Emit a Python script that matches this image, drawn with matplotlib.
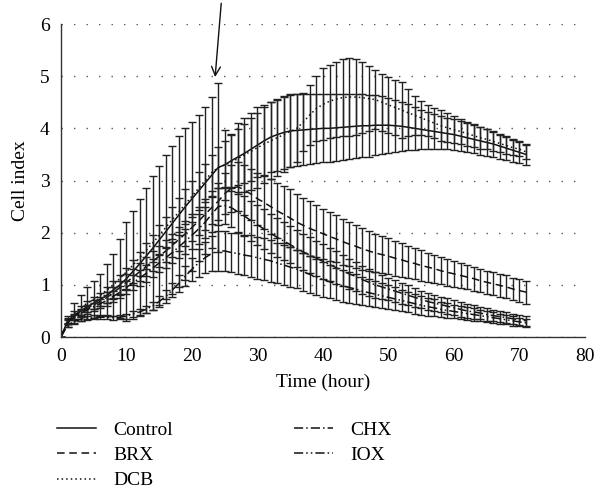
import matplotlib
matplotlib.use("Agg")
import matplotlib.pyplot as plt

# time axis, hours
hours = list(range(72))

control = [
    0.00, 0.30, 0.42, 0.50, 0.58, 0.65, 0.72, 0.80, 0.90, 1.00,
    1.12, 1.26, 1.40, 1.55, 1.70, 1.86, 2.02, 2.18, 2.34, 2.50,
    2.65, 2.80, 2.95, 3.10, 3.25, 3.30, 3.38, 3.45, 3.52, 3.60,
    3.68, 3.76, 3.83, 3.88, 3.92, 3.95, 3.96, 3.97, 3.98, 3.99,
    4.00, 4.00, 4.01, 4.02, 4.03, 4.04, 4.05, 4.05, 4.06, 4.06,
    4.06, 4.05, 4.04, 4.02, 4.00, 3.98, 3.96, 3.94, 3.92, 3.90,
    3.88, 3.85, 3.82, 3.79, 3.76, 3.73, 3.70, 3.66, 3.62, 3.58,
    3.54, 3.50]
control_err = [
    0.00, 0.06, 0.08, 0.10, 0.11, 0.12, 0.13, 0.15, 0.17, 0.19,
    0.20, 0.22, 0.23, 0.25, 0.26, 0.28, 0.29, 0.31, 0.32, 0.34,
    0.35, 0.36, 0.37, 0.39, 0.40, 0.45, 0.50, 0.54, 0.57, 0.60,
    0.62, 0.65, 0.67, 0.69, 0.70, 0.70, 0.69, 0.68, 0.67, 0.66,
    0.65, 0.65, 0.64, 0.63, 0.62, 0.61, 0.60, 0.59, 0.58, 0.56,
    0.53, 0.50, 0.47, 0.44, 0.41, 0.38, 0.35, 0.33, 0.31, 0.30,
    0.29, 0.29, 0.28, 0.27, 0.27, 0.26, 0.25, 0.24, 0.23, 0.22,
    0.21, 0.20]

brx = [
    0.00, 0.30, 0.40, 0.48, 0.55, 0.62, 0.68, 0.76, 0.85, 0.95,
    1.05, 1.15, 1.25, 1.35, 1.45, 1.55, 1.65, 1.76, 1.87, 1.98,
    2.10, 2.22, 2.35, 2.48, 2.60, 2.75, 2.85, 2.88, 2.82, 2.74,
    2.65, 2.58, 2.50, 2.42, 2.35, 2.28, 2.20, 2.14, 2.08, 2.03,
    1.98, 1.93, 1.88, 1.83, 1.78, 1.74, 1.69, 1.65, 1.61, 1.58,
    1.55, 1.51, 1.48, 1.44, 1.41, 1.37, 1.34, 1.31, 1.27, 1.24,
    1.21, 1.18, 1.15, 1.12, 1.08, 1.05, 1.02, 0.99, 0.96, 0.92,
    0.89, 0.86]
brx_err = [
    0.00, 0.04, 0.05, 0.06, 0.07, 0.08, 0.09, 0.10, 0.11, 0.13,
    0.15, 0.16, 0.17, 0.18, 0.19, 0.20, 0.21, 0.22, 0.23, 0.24,
    0.25, 0.27, 0.29, 0.32, 0.35, 0.40, 0.45, 0.47, 0.48, 0.49,
    0.50, 0.51, 0.52, 0.53, 0.55, 0.55, 0.54, 0.53, 0.52, 0.50,
    0.48, 0.47, 0.45, 0.44, 0.42, 0.41, 0.40, 0.39, 0.37, 0.36,
    0.35, 0.34, 0.33, 0.31, 0.30, 0.29, 0.28, 0.27, 0.26, 0.26,
    0.25, 0.24, 0.23, 0.23, 0.22, 0.22, 0.22, 0.22, 0.22, 0.22,
    0.22, 0.22]

dcb = [
    0.00, 0.30, 0.45, 0.55, 0.65, 0.72, 0.80, 0.90, 1.00, 1.12,
    1.25, 1.38, 1.52, 1.66, 1.80, 1.95, 2.10, 2.25, 2.40, 2.55,
    2.70, 2.85, 3.00, 3.15, 3.25, 3.30, 3.35, 3.42, 3.49, 3.56,
    3.63, 3.70, 3.76, 3.82, 3.88, 3.94, 4.00, 4.12, 4.26, 4.38,
    4.46, 4.52, 4.56, 4.59, 4.60, 4.60, 4.59, 4.57, 4.55, 4.50,
    4.45, 4.40, 4.35, 4.30, 4.25, 4.20, 4.15, 4.10, 4.05, 4.01,
    3.97, 3.94, 3.90, 3.86, 3.82, 3.79, 3.75, 3.71, 3.67, 3.63,
    3.60, 3.55]
dcb_err = [
    0.00, 0.10, 0.20, 0.25, 0.30, 0.35, 0.40, 0.50, 0.60, 0.75,
    0.95, 1.03, 1.12, 1.20, 1.28, 1.33, 1.38, 1.42, 1.45, 1.45,
    1.43, 1.40, 1.41, 1.45, 1.62, 0.67, 0.55, 0.68, 0.71, 0.74,
    0.77, 0.75, 0.74, 0.73, 0.72, 0.69, 0.65, 0.55, 0.57, 0.62,
    0.69, 0.70, 0.72, 0.73, 0.74, 0.72, 0.68, 0.63, 0.57, 0.55,
    0.53, 0.53, 0.53, 0.45, 0.37, 0.32, 0.29, 0.29, 0.30, 0.28,
    0.26, 0.24, 0.23, 0.22, 0.21, 0.19, 0.18, 0.17, 0.16, 0.15,
    0.13, 0.13]

chx = [
    0.00, 0.28, 0.38, 0.45, 0.52, 0.58, 0.64, 0.70, 0.78, 0.86,
    0.95, 1.04, 1.13, 1.22, 1.32, 1.42, 1.52, 1.62, 1.73, 1.84,
    1.95, 2.07, 2.20, 2.35, 2.50, 2.52, 2.48, 2.40, 2.32, 2.23,
    2.15, 2.07, 1.99, 1.91, 1.84, 1.77, 1.70, 1.63, 1.57, 1.51,
    1.45, 1.39, 1.33, 1.27, 1.21, 1.16, 1.10, 1.05, 1.00, 0.96,
    0.92, 0.88, 0.84, 0.80, 0.76, 0.72, 0.68, 0.65, 0.62, 0.59,
    0.56, 0.53, 0.50, 0.48, 0.46, 0.43, 0.41, 0.39, 0.37, 0.35,
    0.33, 0.31]
chx_err = [
    0.00, 0.04, 0.05, 0.06, 0.07, 0.08, 0.09, 0.10, 0.11, 0.12,
    0.13, 0.14, 0.15, 0.16, 0.17, 0.18, 0.19, 0.20, 0.22, 0.24,
    0.26, 0.28, 0.30, 0.33, 0.35, 0.36, 0.37, 0.38, 0.38, 0.38,
    0.38, 0.38, 0.37, 0.37, 0.36, 0.36, 0.35, 0.35, 0.34, 0.34,
    0.33, 0.32, 0.31, 0.30, 0.29, 0.28, 0.27, 0.26, 0.25, 0.23,
    0.22, 0.21, 0.20, 0.19, 0.18, 0.17, 0.16, 0.16, 0.15, 0.15,
    0.14, 0.14, 0.13, 0.13, 0.12, 0.12, 0.11, 0.11, 0.11, 0.10,
    0.10, 0.10]

iox = [
    0.00, 0.22, 0.30, 0.34, 0.37, 0.38, 0.38, 0.38, 0.37, 0.38,
    0.40, 0.44, 0.48, 0.53, 0.60, 0.68, 0.78, 0.90, 1.03, 1.17,
    1.30, 1.42, 1.52, 1.60, 1.65, 1.65, 1.62, 1.60, 1.57, 1.55,
    1.52, 1.49, 1.46, 1.42, 1.38, 1.34, 1.30, 1.25, 1.20, 1.15,
    1.10, 1.06, 1.02, 0.98, 0.95, 0.92, 0.88, 0.85, 0.82, 0.79,
    0.76, 0.73, 0.70, 0.67, 0.64, 0.61, 0.58, 0.56, 0.53, 0.51,
    0.49, 0.47, 0.45, 0.43, 0.41, 0.39, 0.37, 0.35, 0.33, 0.31,
    0.29, 0.27]
iox_err = [
    0.00, 0.03, 0.03, 0.04, 0.04, 0.04, 0.04, 0.04, 0.04, 0.04,
    0.05, 0.05, 0.06, 0.07, 0.08, 0.10, 0.12, 0.14, 0.16, 0.19,
    0.22, 0.26, 0.30, 0.34, 0.38, 0.38, 0.38, 0.39, 0.39, 0.40,
    0.40, 0.40, 0.40, 0.39, 0.39, 0.38, 0.37, 0.36, 0.35, 0.34,
    0.33, 0.32, 0.31, 0.30, 0.29, 0.28, 0.27, 0.26, 0.25, 0.24,
    0.23, 0.22, 0.21, 0.20, 0.19, 0.18, 0.17, 0.16, 0.15, 0.14,
    0.13, 0.13, 0.12, 0.12, 0.11, 0.11, 0.10, 0.10, 0.09, 0.09,
    0.08, 0.08]

labels = ['Control', 'BRX', 'DCB', 'CHX', 'IOX']
styles = ['-', (0, (5, 3)), (0, (1, 2)), (0, (6, 2, 1, 2)), (0, (6, 2, 1, 2, 1, 2))]

plt.rcParams['font.family'] = ['Liberation Serif', 'DejaVu Serif']
plt.rcParams['font.size'] = 14

fig = plt.figure(figsize=(5.96, 4.93), dpi=100)
ax = fig.add_axes([0.1023, 0.3164, 0.8792, 0.6349])

series = [(control, control_err), (brx, brx_err), (dcb, dcb_err),
          (chx, chx_err), (iox, iox_err)]
handles = []
for (mean, err), label, ls in zip(series, labels, styles):
    ax.errorbar(hours, mean, yerr=err, fmt='none', ecolor='#222222',
                elinewidth=1.0, capsize=3, capthick=1.0)
    line, = ax.plot(hours, mean, color='#111111', lw=1.1, linestyle=ls, label=label)
    handles.append(line)

ax.set_xlim(0, 80)
ax.set_ylim(0, 6)
ax.set_xticks(range(0, 81, 10))
ax.set_yticks(range(0, 7))
ax.tick_params(length=0, pad=8, labelsize=14)
ax.yaxis.grid(True, color='#555555', linestyle=(0, (1, 8)), lw=1.0)
ax.set_axisbelow(True)
for side in ['top', 'right']:
    ax.spines[side].set_visible(False)
for side in ['left', 'bottom']:
    ax.spines[side].set_color('#333333')
    ax.spines[side].set_linewidth(1.0)

ax.set_xlabel('Time (hour)', fontsize=14, labelpad=6)
ax.set_ylabel('Cell index', fontsize=14, labelpad=8)

# arrow marking the time of treatment
ax.annotate('', xy=(23.5, 4.93), xytext=(24.5, 6.45),
            arrowprops=dict(arrowstyle='->', lw=1.0, color='#111111', mutation_scale=16),
            annotation_clip=False)

fig.legend(handles=handles, labels=labels, ncol=2, loc='upper left',
           bbox_to_anchor=(0.096, 0.146), bbox_transform=fig.transFigure,
           frameon=False, fontsize=14, handlelength=2.0, handletextpad=0.9,
           labelspacing=0.40, columnspacing=6.2, borderpad=0, borderaxespad=0)

fig.savefig('out.png', dpi=100)
